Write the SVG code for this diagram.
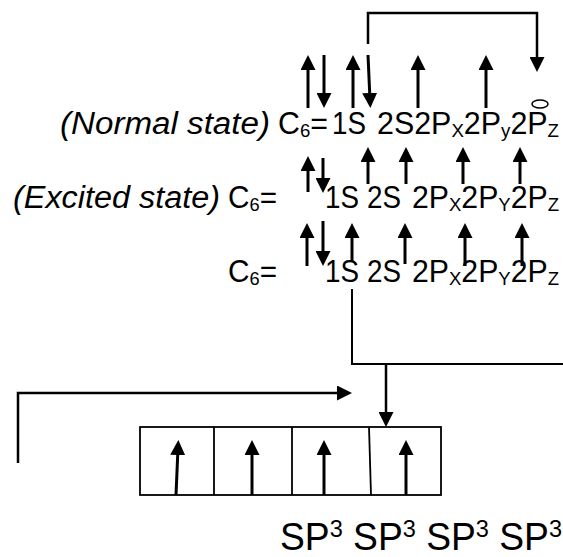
<svg xmlns="http://www.w3.org/2000/svg" width="563" height="557" viewBox="0 0 563 557">
<style>
.t{font-family:"Liberation Sans",Arial,sans-serif;font-size:31px;fill:#000}
.i{font-style:italic}
.sub{font-size:19px}
.big{font-size:38px}
.sup{font-size:24px}
.orb{stroke:#000;stroke-width:3;fill:none;marker-end:url(#ah)}
.con{stroke:#000;stroke-width:2;fill:none}
.conA{stroke:#000;stroke-width:2.5;fill:none;marker-end:url(#ah)}
.box{stroke:#000;stroke-width:1.8;fill:#fff}
.div{stroke:#000;stroke-width:1.8}
</style>
<defs>
<marker id="ah" viewBox="0 0 15 15" refX="7" refY="7.5" markerWidth="15" markerHeight="15" markerUnits="userSpaceOnUse" orient="auto"><path d="M0,0 L15,7.5 L0,15 z" fill="#000"/></marker>
</defs>
<rect width="563" height="557" fill="#fff"/>
<g id="row-normal">
<text class="t i" x="60" y="134" textLength="210" lengthAdjust="spacingAndGlyphs">(Normal state)</text>
<text class="t" x="278" y="134" textLength="50" lengthAdjust="spacingAndGlyphs">C<tspan class="sub" dy="3">6</tspan><tspan dy="-3">=</tspan></text>
<text class="t" x="332" y="134" textLength="34" lengthAdjust="spacingAndGlyphs">1S</text>
<text class="t" x="377" y="134" textLength="182" lengthAdjust="spacingAndGlyphs">2S2P<tspan class="sub" dy="3">X</tspan><tspan dy="-3">2P</tspan><tspan class="sub" dy="3">y</tspan><tspan dy="-3">2P</tspan><tspan class="sub" dy="3">Z</tspan></text>
<ellipse cx="540" cy="104" rx="8" ry="4" fill="none" stroke="#000" stroke-width="1.5"/>
</g>
<g id="row-excited">
<text class="t i" x="13" y="208" textLength="207" lengthAdjust="spacingAndGlyphs">(Excited state)</text>
<text class="t" x="228" y="208" textLength="49" lengthAdjust="spacingAndGlyphs">C<tspan class="sub" dy="3">6</tspan><tspan dy="-3">=</tspan></text>
<text class="t" x="325" y="208" textLength="34" lengthAdjust="spacingAndGlyphs">1S</text>
<text class="t" x="367" y="208" textLength="34" lengthAdjust="spacingAndGlyphs">2S</text>
<text class="t" x="412" y="208" textLength="147" lengthAdjust="spacingAndGlyphs">2P<tspan class="sub" dy="3">X</tspan><tspan dy="-3">2P</tspan><tspan class="sub" dy="3">Y</tspan><tspan dy="-3">2P</tspan><tspan class="sub" dy="3">Z</tspan></text>
</g>
<g id="row-hybrid">
<text class="t" x="228" y="282" textLength="49" lengthAdjust="spacingAndGlyphs">C<tspan class="sub" dy="3">6</tspan><tspan dy="-3">=</tspan></text>
<text class="t" x="325" y="282" textLength="34" lengthAdjust="spacingAndGlyphs">1S</text>
<text class="t" x="367" y="282" textLength="34" lengthAdjust="spacingAndGlyphs">2S</text>
<text class="t" x="412" y="282" textLength="147" lengthAdjust="spacingAndGlyphs">2P<tspan class="sub" dy="3">X</tspan><tspan dy="-3">2P</tspan><tspan class="sub" dy="3">Y</tspan><tspan dy="-3">2P</tspan><tspan class="sub" dy="3">Z</tspan></text>
</g>
<g id="sp3-box">
<rect class="box" x="140" y="427" width="301" height="68"/>
<line class="div" x1="214" y1="427" x2="214" y2="495"/>
<line class="div" x1="292" y1="427" x2="292" y2="495"/>
<line class="div" x1="369" y1="427" x2="371" y2="495"/>
</g>
<g id="sp3-label">
<text class="t big" x="280" y="550" textLength="282" lengthAdjust="spacingAndGlyphs">SP<tspan class="sup" dy="-13">3</tspan><tspan dy="13"> SP</tspan><tspan class="sup" dy="-13">3</tspan><tspan dy="13"> SP</tspan><tspan class="sup" dy="-13">3</tspan><tspan dy="13"> SP</tspan><tspan class="sup" dy="-13">3</tspan></text>
</g>
<g id="connectors">
<line class="orb" x1="308" y1="108" x2="308" y2="63"/>
<line class="orb" x1="324" y1="55" x2="324" y2="100"/>
<line class="orb" x1="353" y1="108" x2="353" y2="63"/>
<line class="orb" x1="368" y1="55" x2="370" y2="100"/>
<line class="orb" x1="418" y1="108" x2="418" y2="63"/>
<line class="orb" x1="486" y1="108" x2="486" y2="63"/>
<polyline class="conA" points="368,44 368,13 537,13 537,64"/>
<line class="orb" x1="308" y1="192" x2="308" y2="164"/>
<line class="orb" x1="323" y1="158" x2="323" y2="185"/>
<line class="orb" x1="368" y1="184" x2="368" y2="155"/>
<line class="orb" x1="406" y1="184" x2="406" y2="155"/>
<line class="orb" x1="463" y1="184" x2="463" y2="155"/>
<line class="orb" x1="520" y1="184" x2="520" y2="155"/>
<line class="orb" x1="307" y1="266" x2="307" y2="231"/>
<line class="orb" x1="323" y1="221" x2="323" y2="258"/>
<line class="orb" x1="352" y1="261" x2="352" y2="231"/>
<line class="orb" x1="405" y1="264" x2="405" y2="231"/>
<line class="orb" x1="465" y1="266" x2="465" y2="231"/>
<line class="orb" x1="522" y1="266" x2="522" y2="231"/>
<polyline class="con" points="352,289 352,364 563,364"/>
<line class="conA" x1="386" y1="364" x2="386" y2="419"/>
<polyline class="conA" points="18,463 18,393 344,393"/>
<line class="orb" x1="176" y1="495" x2="178" y2="448"/>
<line class="orb" x1="252" y1="495" x2="252" y2="448"/>
<line class="orb" x1="324" y1="495" x2="324" y2="448"/>
<line class="orb" x1="406" y1="495" x2="406" y2="448"/>
</g>
</svg>
